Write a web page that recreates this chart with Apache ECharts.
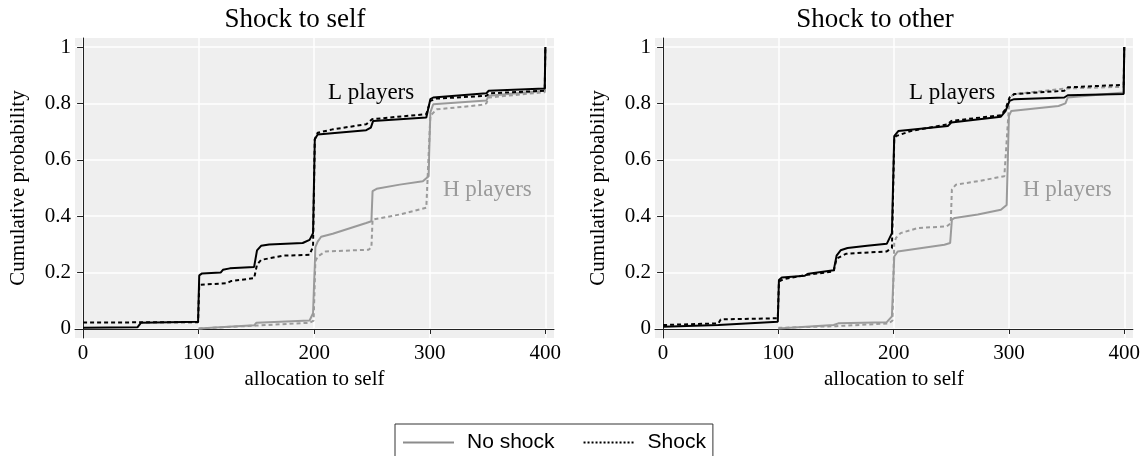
<!DOCTYPE html>
<html>
<head>
<meta charset="utf-8">
<script src="https://cdn.jsdelivr.net/npm/echarts@6/dist/echarts.min.js"></script>
<style>
html,body{margin:0;padding:0;background:#fff;}
#chart{width:1143px;height:456px;}
</style>
</head>
<body>
<div id="chart"></div>
<script>
// ---- data ----
const panelTitles = ['Shock to self', 'Shock to other'];
const xTicks = [0, 100, 200, 300, 400];
const yTicks = [0, 0.2, 0.4, 0.6, 0.8, 1];
const legendNames = ['No shock', 'Shock'];

// Shock to self
const selfLNo = [[0,0.004],[47,0.006],[50,0.022],[99.5,0.026],[100.5,0.19],[103,0.197],[119,0.2],[121,0.21],[127,0.215],[148,0.22],[150.5,0.279],[154,0.295],[161,0.30],[190,0.305],[196,0.316],[199,0.34],[200.5,0.673],[203,0.69],[245,0.705],[249,0.714],[251,0.738],[297,0.75],[300.5,0.815],[303,0.821],[349,0.836],[351,0.845],[399.5,0.853],[400,1]];
const selfLShock = [[0,0.023],[99.5,0.024],[100.5,0.157],[124,0.162],[128,0.17],[148,0.18],[150.5,0.228],[154,0.245],[173,0.26],[196,0.263],[199,0.293],[200.5,0.673],[203,0.696],[216,0.708],[245,0.726],[250,0.744],[297,0.762],[300.5,0.809],[306,0.817],[349,0.827],[352,0.836],[399.5,0.845],[400,1]];
const selfHNo = [[100,0.002],[148,0.013],[150,0.022],[196,0.03],[199,0.056],[201,0.29],[203,0.31],[206,0.327],[216,0.338],[245,0.376],[249.5,0.382],[250.5,0.489],[254,0.497],[274,0.512],[294,0.524],[299,0.542],[300.5,0.768],[303,0.797],[349,0.81],[351,0.827],[399.5,0.845],[400,1]];
const selfHShock = [[100,0.002],[150,0.012],[196,0.022],[199.5,0.03],[201,0.24],[203,0.257],[210,0.275],[247,0.281],[249.5,0.29],[250.5,0.388],[274,0.406],[297,0.43],[300.5,0.756],[306,0.779],[344,0.794],[349,0.80],[351,0.821],[399.5,0.84],[400,1]];

// Shock to other
const otherLNo = [[0,0.008],[48,0.014],[99.5,0.026],[100.5,0.174],[103,0.183],[123,0.189],[126,0.196],[148,0.208],[150.5,0.26],[154,0.279],[160,0.287],[177,0.295],[194,0.302],[198.5,0.34],[200.5,0.684],[204,0.702],[247,0.72],[250,0.732],[293,0.753],[297,0.773],[300.5,0.809],[304.5,0.815],[348,0.821],[351,0.829],[399.5,0.833],[400,1]];
const otherLShock = [[0,0.014],[48,0.02],[50,0.034],[99.5,0.038],[100.5,0.168],[104,0.176],[125,0.192],[148,0.204],[150.5,0.25],[159,0.267],[194,0.275],[198.5,0.287],[200.5,0.673],[202,0.684],[215,0.702],[247,0.726],[250,0.738],[293,0.758],[297,0.779],[300.5,0.821],[304.5,0.833],[348,0.845],[351,0.857],[399.5,0.866],[400,1]];
const otherHNo = [[100,0.002],[148,0.014],[152,0.02],[194,0.024],[198.5,0.045],[200.5,0.257],[203.5,0.275],[244,0.299],[249,0.305],[250.5,0.388],[253,0.394],[273,0.406],[293,0.423],[298,0.44],[300,0.756],[302,0.773],[343,0.791],[349,0.80],[351,0.821],[399.5,0.839],[400,1]];
const otherHShock = [[100,0.004],[150,0.01],[196,0.02],[199,0.03],[200.5,0.305],[202,0.323],[206,0.34],[221,0.358],[246,0.364],[249.5,0.375],[250.5,0.495],[254,0.512],[273,0.524],[296,0.542],[300.5,0.821],[304.5,0.833],[350,0.853],[399.5,0.859],[400,1]];

// ---- styling ----
const SERIF = "'Liberation Serif', 'Times New Roman', serif";
const SANS = "'Liberation Sans', Arial, sans-serif";
const GRAY = '#9a9a9a';
const DASH = [4, 3];

const chart = echarts.init(document.getElementById('chart'), null, {renderer: 'canvas'});

const gridLefts = [75, 655];
function makeX(i) {
  return {
    type: 'value', gridIndex: i, min: -7, max: 407.5,
    name: 'allocation to self', nameLocation: 'middle', nameGap: 29,
    nameTextStyle: {fontFamily: SERIF, fontSize: 21, color: '#000'},
    axisLine: {show: true, lineStyle: {color: '#222', width: 1}},
    axisTick: {show: true, length: 5, customValues: xTicks, lineStyle: {color: '#222'}},
    axisLabel: {customValues: xTicks, fontFamily: SERIF, fontSize: 21, color: '#000', margin: 5},
    splitLine: {show: true, lineStyle: {color: '#ffffff', width: 1.5}}
  };
}
function makeY(i) {
  return {
    type: 'value', gridIndex: i, min: -0.032, max: 1.032,
    name: 'Cumulative probability', nameLocation: 'middle', nameGap: 46,
    nameTextStyle: {fontFamily: SERIF, fontSize: 21, color: '#000'},
    axisLine: {show: true, lineStyle: {color: '#222', width: 1}},
    axisTick: {show: true, length: 6, customValues: yTicks, lineStyle: {color: '#222'}},
    axisLabel: {customValues: yTicks, fontFamily: SERIF, fontSize: 21, color: '#000', margin: 4,
      formatter: v => String(+v.toFixed(2))},
    splitLine: {show: true, lineStyle: {color: '#ffffff', width: 1.5}}
  };
}
function line(name, data, idx, color, dashed, z) {
  return {
    name: name, type: 'line', xAxisIndex: idx, yAxisIndex: idx, data: data,
    symbol: 'none', showSymbol: false, silent: true, animation: false, z: z,
    lineStyle: {color: color, width: 2, type: dashed ? DASH : 'solid'}
  };
}

const option = {
  animation: false,
  backgroundColor: '#ffffff',
  title: panelTitles.map((t, i) => ({
    text: t, left: (i === 0 ? 290 : 870), top: 1, textAlign: 'center',
    textStyle: {fontFamily: SERIF, fontSize: 27, fontWeight: 'normal', color: '#000'}
  })),
  grid: gridLefts.map(l => ({
    left: l, top: 38, width: 479, height: 300, show: true,
    backgroundColor: '#efefef', borderWidth: 0, containLabel: false
  })),
  xAxis: [makeX(0), makeX(1)],
  yAxis: [makeY(0), makeY(1)],
  legend: {
    data: legendNames, left: 395, top: 424,
    padding: [8, 7, 8, 7], itemWidth: 51, itemHeight: 20, itemGap: 28,
    borderColor: '#333', borderWidth: 1,
    itemStyle: {opacity: 0},
    textStyle: {fontFamily: SANS, fontSize: 21, color: '#000', padding: [0, 0, 0, 8]}
  },
  series: [
    {name: 'No shock', type: 'line', data: [], symbol: 'none', xAxisIndex: 0, yAxisIndex: 0,
      lineStyle: {color: '#8c8c8c', width: 1.5, type: 'solid'}, itemStyle: {color: '#8c8c8c'}},
    {name: 'Shock', type: 'line', data: [], symbol: 'none', xAxisIndex: 0, yAxisIndex: 0,
      lineStyle: {color: '#000', width: 1.3, type: [2, 2]}, itemStyle: {color: '#000'}},
    line('H no shock', selfHNo, 0, GRAY, false, 2),
    line('H shock', selfHShock, 0, GRAY, true, 2),
    line('L shock', selfLShock, 0, '#000', true, 3),
    line('L no shock', selfLNo, 0, '#000', false, 4),
    line('H no shock', otherHNo, 1, GRAY, false, 2),
    line('H shock', otherHShock, 1, GRAY, true, 2),
    line('L shock', otherLShock, 1, '#000', true, 3),
    line('L no shock', otherLNo, 1, '#000', false, 4)
  ],
  graphic: [
    {type: 'text', x: 328, y: 93, z: 10, style: {text: 'L players', font: '23px ' + SERIF, fill: '#000', verticalAlign: 'middle'}},
    {type: 'text', x: 443, y: 190, z: 10, style: {text: 'H players', font: '23px ' + SERIF, fill: GRAY, verticalAlign: 'middle'}},
    {type: 'text', x: 909, y: 93, z: 10, style: {text: 'L players', font: '23px ' + SERIF, fill: '#000', verticalAlign: 'middle'}},
    {type: 'text', x: 1023, y: 190, z: 10, style: {text: 'H players', font: '23px ' + SERIF, fill: GRAY, verticalAlign: 'middle'}}
  ]
};
chart.setOption(option);
</script>
</body>
</html>
